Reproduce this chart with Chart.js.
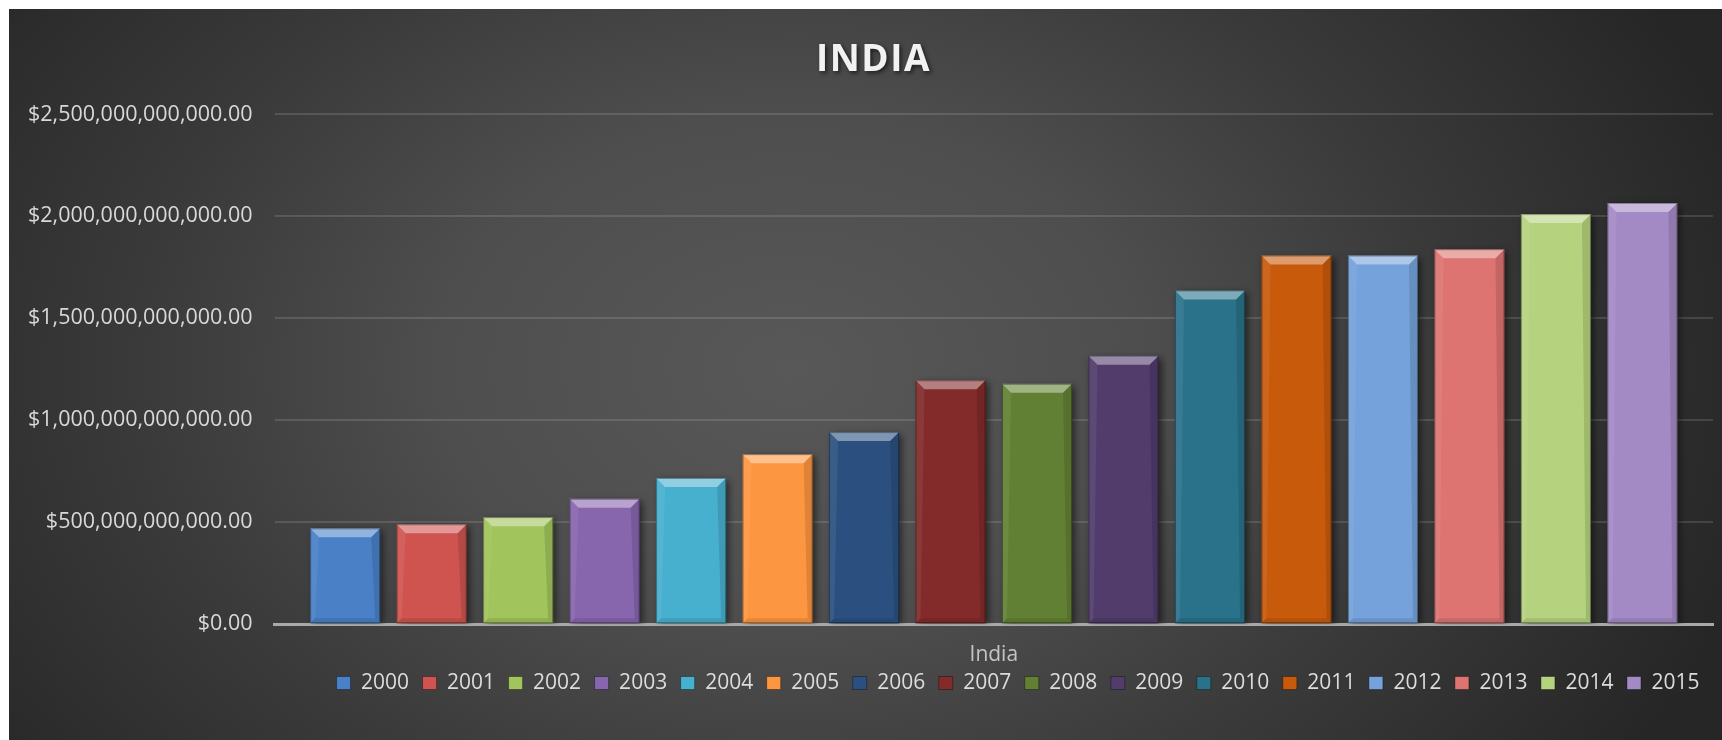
<!DOCTYPE html>
<html>
<head>
<meta charset="utf-8">
<script src="https://cdn.jsdelivr.net/npm/chart.js@4.4.1/dist/chart.umd.min.js"></script>
<style>
  html, body { margin: 0; padding: 0; background: #ffffff; width: 1722px; height: 740px; overflow: hidden; }
  #wrap {
    position: absolute; left: 9px; top: 9px; width: 1713px; height: 731px;
    background: radial-gradient(ellipse 1000px 720px at 780px 360px, #585858 0%, #4e4e4e 35%, #3a3a3a 65%, #262626 100%);
  }
  canvas { display: block; }
</style>
</head>
<body>
<div id="wrap"><canvas id="c" width="1713" height="731"></canvas></div>
<script>
// ---- data ----
const categories = ['India'];
const years = ['2000','2001','2002','2003','2004','2005','2006','2007','2008','2009','2010','2011','2012','2013','2014','2015'];
const gdpUSD = [0.470e12, 0.490e12, 0.525e12, 0.615e12, 0.717e12, 0.834e12, 0.942e12, 1.196e12,
                1.179e12, 1.317e12, 1.637e12, 1.808e12, 1.808e12, 1.839e12, 2.011e12, 2.066e12];
const yTicks = [0, 0.5e12, 1.0e12, 1.5e12, 2.0e12, 2.5e12];
const seriesColors = ['#4a80c6','#cf5450','#a2c45c','#8766ae','#47b0cf','#fd9640','#2b5080','#822b2a',
                      '#628034','#513c6b','#29728a','#c85b0b','#75a2da','#dd7471','#b5d27e','#a38ac5'];

function shade(hex, amt) {
  const n = parseInt(hex.slice(1), 16);
  let r = (n >> 16) & 255, g = (n >> 8) & 255, b = n & 255;
  const f = c => Math.max(0, Math.min(255, Math.round(amt >= 0 ? c + (255 - c) * amt : c * (1 + amt))));
  return 'rgb(' + f(r) + ',' + f(g) + ',' + f(b) + ')';
}

function barFill(ctx, base) {
  const chart = ctx.chart;
  const area = chart.chartArea;
  if (!area || !ctx.element) return base;
  const el = ctx.element;
  const top = Math.min(el.y, el.base), bot = Math.max(el.y, el.base);
  if (!isFinite(top) || !isFinite(bot) || bot - top < 1) return base;
  const g = chart.ctx.createLinearGradient(0, top, 0, bot);
  g.addColorStop(0, shade(base, 0.12));
  g.addColorStop(1, shade(base, -0.08));
  return g;
}

const datasets = years.map((y, i) => ({
  label: y,
  data: [gdpUSD[i]],
  backgroundColor: ctx => barFill(ctx, seriesColors[i]),
  baseColor: seriesColors[i],
  borderWidth: 0,
  barPercentage: 0.81,
  categoryPercentage: 0.962
}));

const bevelPlugin = {
  id: 'bevel',
  beforeDatasetDraw(chart) {
    const c = chart.ctx;
    c.save();
    c.shadowColor = 'rgba(0,0,0,0.55)';
    c.shadowBlur = 7;
    c.shadowOffsetX = 3;
    c.shadowOffsetY = 2;
  },
  afterDatasetDraw(chart, args) {
    const c = chart.ctx;
    c.restore();
    const meta = args.meta;
    meta.data.forEach(el => {
      const p = el.getProps(['x', 'y', 'base', 'width'], true);
      const l = p.x - p.width / 2, r = p.x + p.width / 2, t = Math.min(p.y, p.base), b = Math.max(p.y, p.base);
      const bv = 9, sv = 5;
      c.save();
      c.beginPath();
      c.moveTo(l, t); c.lineTo(r, t); c.lineTo(r - bv, t + bv); c.lineTo(l + bv, t + bv); c.closePath();
      c.fillStyle = 'rgba(255,255,255,0.40)'; c.fill();
      c.beginPath();
      c.moveTo(l, t); c.lineTo(l + bv, t + bv); c.lineTo(l + sv, b - sv); c.lineTo(l, b); c.closePath();
      c.fillStyle = 'rgba(255,255,255,0.07)'; c.fill();
      c.beginPath();
      c.moveTo(r, t); c.lineTo(r - bv, t + bv); c.lineTo(r - sv, b - sv); c.lineTo(r, b); c.closePath();
      c.fillStyle = 'rgba(0,0,0,0.12)'; c.fill();
      c.beginPath();
      c.moveTo(l, b); c.lineTo(r, b); c.lineTo(r - sv, b - sv); c.lineTo(l + sv, b - sv); c.closePath();
      c.fillStyle = 'rgba(0,0,0,0.10)'; c.fill();
      c.strokeStyle = 'rgba(0,0,0,0.35)'; c.lineWidth = 1;
      c.strokeRect(l + 0.5, t + 0.5, p.width - 1, b - t - 1);
      c.restore();
    });
  }
};

const X_SHRINK = 26.4;

// title styling (offset, letter spacing, shadow) and restoring the x-axis label clip box
const layoutTweakPlugin = {
  id: 'layoutTweak',
  afterLayout(chart) {
    const xs = chart.scales.x;
    if (xs) { xs.bottom += X_SHRINK; xs.height += X_SHRINK; }
    const tb = chart.titleBlock;
    if (!tb) return;
    tb.left += 14; tb.right += 14;
    if (!tb._styled) {
      tb._styled = true;
      const orig = tb.draw;
      tb.draw = function () {
        const c = chart.ctx;
        c.save();
        c.letterSpacing = '1.5px';
        c.shadowColor = 'rgba(0,0,0,0.6)';
        c.shadowBlur = 4;
        c.shadowOffsetX = 2;
        c.shadowOffsetY = 2;
        orig.apply(this, arguments);
        c.restore();
      };
    }
  }
};

const FONT = '"Open Sans", "DejaVu Sans", sans-serif';

new Chart(document.getElementById('c'), {
  type: 'bar',
  data: { labels: categories, datasets: datasets },
  plugins: [bevelPlugin, layoutTweakPlugin],
  options: {
    responsive: false,
    animation: false,
    layout: { padding: { left: -3, right: 9, top: 0, bottom: 36.5 } },
    plugins: {
      title: {
        display: true,
        text: 'INDIA',
        color: '#f2f2f2',
        font: { family: FONT, size: 37, weight: 'bold' },
        padding: { top: 29, bottom: 32 }
      },
      legend: {
        position: 'bottom',
        align: 'end',
        labels: {
          color: '#dcdcdc',
          font: { family: FONT, size: 21 },
          boxWidth: 14,
          boxHeight: 13,
          padding: 13.5,
          generateLabels(chart) {
            return chart.data.datasets.map((ds, i) => ({
              text: ds.label,
              fillStyle: ds.baseColor,
              strokeStyle: 'rgba(0,0,0,0.35)',
              lineWidth: 1,
              hidden: !chart.isDatasetVisible(i),
              datasetIndex: i,
              fontColor: '#dcdcdc'
            }));
          }
        }
      },
      tooltip: { enabled: false }
    },
    scales: {
      x: {
        grid: { display: false, drawTicks: false },
        border: { display: true, color: '#a9a9a9', width: 3 },
        ticks: { color: '#c4c4c4', font: { family: FONT, size: 21 }, padding: 18 },
        afterFit(scale) { scale.height -= X_SHRINK; }
      },
      y: {
        min: 0,
        max: yTicks[yTicks.length - 1],
        afterBuildTicks(scale) { scale.ticks = yTicks.map(v => ({ value: v })); },
        grid: { color: 'rgba(255,255,255,0.13)', lineWidth: 2, drawTicks: false },
        border: { display: false },
        ticks: {
          color: '#d9d9d9',
          font: { family: FONT, size: 21.5 },
          padding: 22,
          callback: v => '$' + Number(v).toLocaleString('en-US', { minimumFractionDigits: 2, maximumFractionDigits: 2 })
        }
      }
    }
  }
});
</script>
</body>
</html>
